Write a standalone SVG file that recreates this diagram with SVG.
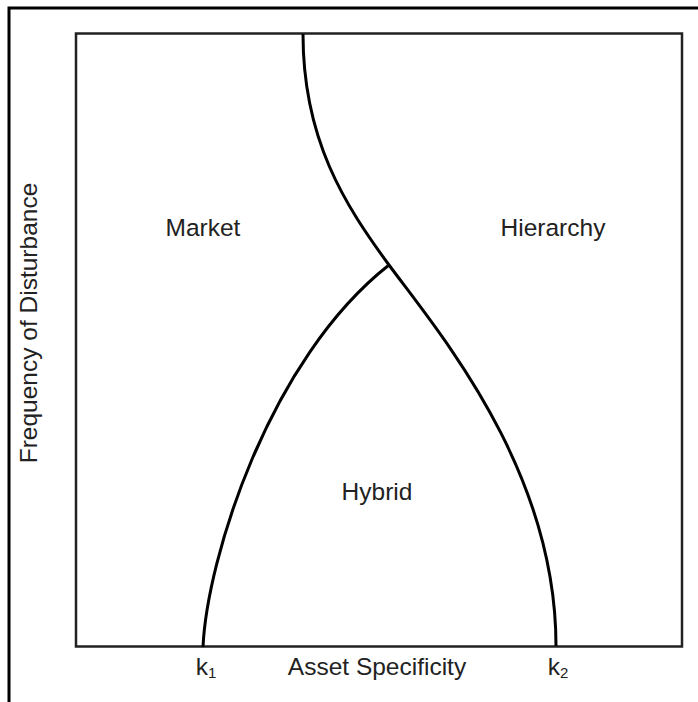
<svg xmlns="http://www.w3.org/2000/svg" width="698" height="702" viewBox="0 0 698 702">
<style>
.lbl{font-family:"Liberation Sans",Arial,sans-serif;font-size:24.5px;fill:#222;text-anchor:middle}
.curve{fill:none;stroke:#000;stroke-width:3}
</style>
<rect width="698" height="702" fill="#fff"/>
<g id="frame">
<path d="M9,702 V8 H698" fill="none" stroke="#000" stroke-width="3"/>
</g>
<g id="plot">
<rect x="76" y="33.5" width="606" height="613" fill="none" stroke="#222" stroke-width="2.5"/>
</g>
<g id="connectors">
<path class="curve" d="M303,34 C303,140 345,205 389,265 C440,334 556,470 556,646"/>
<path class="curve" d="M203,647 C207,560 268,360 389,265"/>
</g>
<g id="market"><text class="lbl" x="203" y="236">Market</text></g>
<g id="hierarchy"><text class="lbl" x="553" y="236">Hierarchy</text></g>
<g id="hybrid"><text class="lbl" x="377" y="500">Hybrid</text></g>
<g id="xaxis"><text class="lbl" x="377" y="675">Asset Specificity</text></g>
<g id="k1"><text class="lbl" x="206" y="675">k<tspan font-size="15" dy="3">1</tspan></text></g>
<g id="k2"><text class="lbl" x="558" y="675">k<tspan font-size="15" dy="3">2</tspan></text></g>
<g id="yaxis"><text class="lbl" transform="translate(37,323) rotate(-90)">Frequency of Disturbance</text></g>
</svg>
